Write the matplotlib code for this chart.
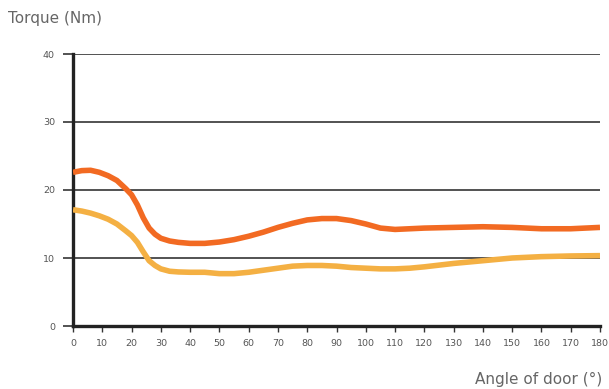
import matplotlib
matplotlib.use("Agg")
import matplotlib.pyplot as plt

angles = [0, 3, 6, 9, 12, 15, 18, 20, 22, 24, 26, 28, 30, 33, 36, 40, 45, 50, 55, 60,
          65, 70, 75, 80, 85, 90, 95, 100, 105, 110, 115, 120, 130, 140, 150, 160, 170, 180]
torque_orange = [22.6, 22.85, 22.9, 22.6, 22.1, 21.4, 20.2, 19.3, 17.8, 15.9, 14.4, 13.5,
                 12.9, 12.5, 12.3, 12.15, 12.15, 12.35, 12.7, 13.2, 13.8, 14.5, 15.1,
                 15.6, 15.8, 15.8, 15.5, 15.0, 14.4, 14.2, 14.3, 14.4, 14.5, 14.6, 14.5,
                 14.3, 14.3, 14.5]
torque_yellow = [17.1, 16.9, 16.6, 16.2, 15.7, 15.0, 14.0, 13.3, 12.3, 10.9, 9.6, 8.9,
                 8.4, 8.05, 7.95, 7.9, 7.9, 7.7, 7.7, 7.9, 8.2, 8.5, 8.8, 8.9, 8.9, 8.8,
                 8.6, 8.5, 8.4, 8.4, 8.5, 8.7, 9.2, 9.6, 10.0, 10.2, 10.3, 10.35]
x_ticks = list(range(0, 181, 10))
y_ticks = [0, 10, 20, 30, 40]

plt.rcParams['font.family'] = ['DejaVu Sans']

fig = plt.figure(figsize=(6.09, 3.89), dpi=100)
ax = fig.add_axes([73/609, 1-326/389, (600-73)/609, (326-54)/389])

for y in y_ticks[1:]:
    ax.axhline(y, color='#444444', lw=1.3, zorder=1)

ax.plot(angles, torque_yellow, color='#F4B043', lw=4.0, solid_capstyle='butt',
        solid_joinstyle='round', zorder=3)
ax.plot(angles, torque_orange, color='#F26A22', lw=4.0, solid_capstyle='butt',
        solid_joinstyle='round', zorder=3)

ax.set_xlim(0, 180)
ax.set_ylim(0, 40)
ax.set_xticks(x_ticks)
ax.set_yticks(y_ticks)
ax.tick_params(axis='x', length=4, width=1, color='#333333', labelsize=6.8,
               labelcolor='#555555', pad=5)
ax.tick_params(axis='y', length=7, width=1.3, color='#444444', labelsize=6.8,
               labelcolor='#555555', pad=6)
for s in ['top', 'right']:
    ax.spines[s].set_visible(False)
ax.spines['left'].set_linewidth(2.4)
ax.spines['bottom'].set_linewidth(2.4)
ax.spines['left'].set_color('#222222')
ax.spines['bottom'].set_color('#222222')

fig.text(8/609, 1-18/389, 'Torque (Nm)', fontsize=11, color='#666666',
         ha='left', va='center')
fig.text(602/609, 1-379/389, 'Angle of door (°)', fontsize=11, color='#666666',
         ha='right', va='center')

fig.savefig('out.png', dpi=100)
